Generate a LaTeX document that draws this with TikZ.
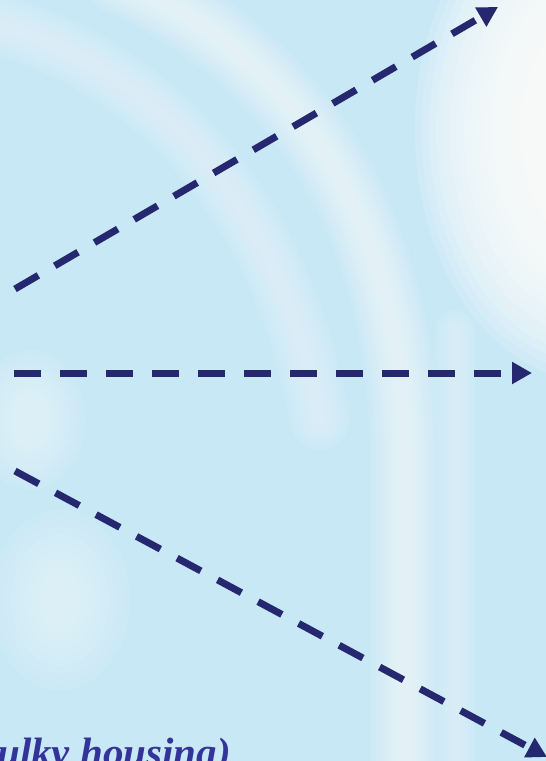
\documentclass[tikz,border=0pt]{standalone}
\usepackage{fontspec}
\setmainfont{Liberation Serif}
\usetikzlibrary{arrows.meta}
\definecolor{bgblue}{HTML}{C9E8F6}
\definecolor{navy}{HTML}{25276F}
\definecolor{textblue}{HTML}{33339A}
\tikzset{
  flow/.style={draw=navy, line width=7pt, dash pattern=on 27pt off 19pt,
    -{Triangle[length=20pt,width=21pt]}},
  glow/.style={draw=white, line cap=round, opacity=0.07},
  blob/.style={fill=white, opacity=0.06},
}
\begin{document}
\begin{tikzpicture}[x=1pt,y=-1pt]
\useasboundingbox (0,0) rectangle (546,761);
\begin{scope}
\clip (0,0) rectangle (546,761);
\fill[bgblue] (0,0) rectangle (546,761);
% bright upper-right area
\foreach \i in {0,...,15}
  \fill[blob, opacity=0.14] (590,130) ellipse ({175-7*\i} and {250-9*\i});
% main bright arc band
\foreach \i in {0,...,10}
  \draw[glow, line width=(70-6*\i)*1pt]
    (120,-20) .. controls (300,60) and (400,220) .. (405,450) -- (405,790);
% second faint arc
\foreach \i in {0,...,8}
  \draw[glow, opacity=0.05, line width=(60-6*\i)*1pt]
    (-20,20) .. controls (150,60) and (280,200) .. (320,420);
% second vertical strip
\foreach \i in {0,...,6}
  \draw[glow, opacity=0.05, line width=(40-5*\i)*1pt] (455,330) -- (455,790);
% left light patches
\foreach \i in {0,...,8}{
  \fill[blob] (30,420) ellipse ({55-5*\i} and {70-6*\i});
  \fill[blob] (60,600) ellipse ({70-7*\i} and {90-8*\i});
}
% text
\node[anchor=base east, inner sep=0pt, text=textblue,
  font=\fontsize{41}{44}\selectfont\bfseries\itshape] (label) at (231,766) {(bulky housing)};
\end{scope}
% arrows
\coordinate (topS) at (15,289);
\coordinate (topE) at (498,7);
\coordinate (midS) at (14,373);
\coordinate (midE) at (532,373);
\coordinate (botS) at (15,471);
\coordinate (botE) at (547,757);
\draw[flow] (topS) -- (topE);
\draw[flow] (midS) -- (midE);
\draw[flow] (botS) -- (botE);
\end{tikzpicture}
\end{document}
